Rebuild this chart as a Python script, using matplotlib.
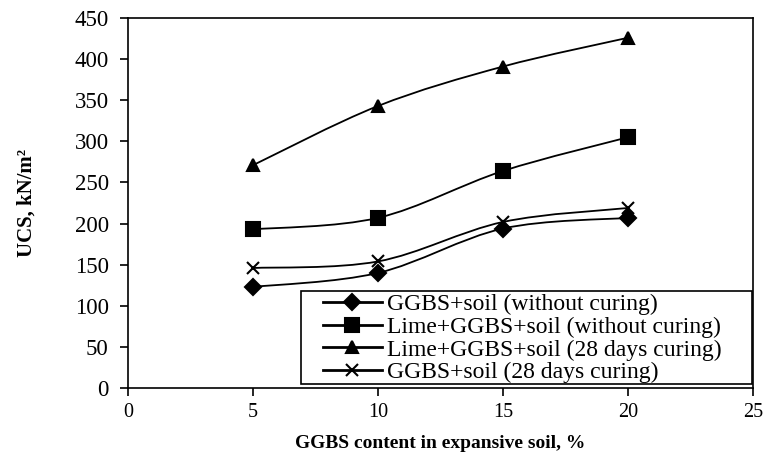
import numpy as np
import matplotlib
matplotlib.use('Agg')
import matplotlib.pyplot as plt
from matplotlib.path import Path
from matplotlib.patches import PathPatch, Rectangle
from matplotlib.lines import Line2D

plt.rcParams['font.family'] = 'Liberation Serif'

ggbs = [5, 10, 15, 20]
ggbs_soil = [123, 140, 194, 207]
lime_ggbs_soil = [193, 207, 264, 305]
lime_ggbs_soil_28 = [271, 343, 391, 426]
ggbs_soil_28 = [146, 154, 202, 219]

labels = ['GGBS+soil (without curing)', 'Lime+GGBS+soil (without curing)',
          'Lime+GGBS+soil (28 days curing)', 'GGBS+soil (28 days curing)']
markers = ['D', 's', '^', 'x']
msizes = [8, 10, 9, 8.5]
series = [ggbs_soil, lime_ggbs_soil, lime_ggbs_soil_28, ggbs_soil_28]


def smooth_path(x, y):
    # excel-like smoothed line: cubic bezier through the points
    p = np.column_stack([x, y]).astype(float)
    pp = np.vstack([p[0], p, p[-1]])
    verts = [p[0]]
    codes = [Path.MOVETO]
    for i in range(len(p) - 1):
        c1 = pp[i + 1] + (pp[i + 2] - pp[i]) / 6
        c2 = pp[i + 2] - (pp[i + 3] - pp[i + 1]) / 6
        verts += [c1, c2, pp[i + 2]]
        codes += [Path.CURVE4] * 3
    return Path(verts, codes)


fig = plt.figure(figsize=(7.66, 4.62), dpi=100)
ax = fig.add_axes([0.167, 0.160, 0.816, 0.801])

handles = []
for ys, m, ms, lab in zip(series, markers, msizes, labels):
    ax.add_patch(PathPatch(smooth_path(ggbs, ys), fill=False, ec='k', lw=1.3))
    ax.plot(ggbs, ys, ls='none', marker=m, ms=ms, color='k', mew=1.5)
    handles.append(Line2D([], [], color='k', lw=2, marker=m, ms=ms, mew=1.5, label=lab))

ax.set_xlim(0, 25)
ax.set_ylim(0, 450)
ax.set_xticks(range(0, 26, 5))
ax.set_yticks(range(0, 451, 50))
ax.tick_params(length=5.8, width=1.2, direction='out')
ax.tick_params(axis='y', labelsize=16.5, pad=8)
ax.tick_params(axis='x', labelsize=14.5, pad=5)
for s in ax.spines.values():
    s.set_linewidth(1.2)

ax.set_xlabel('GGBS content in expansive soil, %', fontsize=14, fontweight='bold', labelpad=9)
ax.set_ylabel('UCS, kN/m²', fontsize=15, fontweight='bold', labelpad=27)

# legend box is wider than its contents in the original
ax.add_patch(Rectangle((0.277, 0.011), 0.721, 0.251, transform=ax.transAxes,
                       fill=True, fc='white', ec='k', lw=1.2, zorder=4))
leg = ax.legend(handles=handles, loc='upper left', bbox_to_anchor=(0.31, 0.258),
                fontsize=17, frameon=False, borderaxespad=0, borderpad=0.05,
                handlelength=2.5, handletextpad=0.2, labelspacing=0.05)
leg.set_zorder(5)

fig.savefig('out.png', dpi=100)
